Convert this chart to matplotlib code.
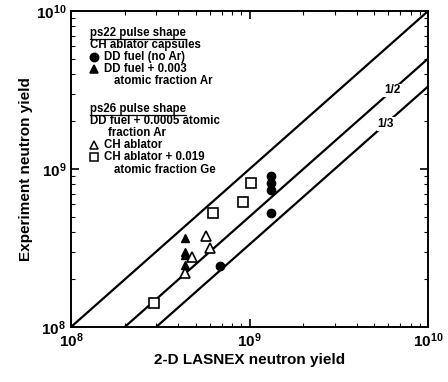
import matplotlib.pyplot as plt
from matplotlib.ticker import LogLocator, NullFormatter

plt.rcParams['font.family'] = ['Liberation Sans', 'DejaVu Sans']

# ps22, CH ablator, DD fuel (no Ar)
circ_x = [1.32e9, 1.32e9, 1.32e9, 1.32e9, 6.8e8]
circ_y = [9.1e8, 8.1e8, 7.4e8, 5.3e8, 2.44e8]
# ps22, DD fuel + 0.003 Ar
tri_x = [4.37e8, 4.37e8, 4.37e8, 4.37e8]
tri_y = [3.67e8, 2.99e8, 2.87e8, 2.48e8]
# ps26, CH ablator
otri_x = [5.72e8, 6.0e8, 4.78e8, 4.37e8]
otri_y = [3.78e8, 3.17e8, 2.78e8, 2.2e8]
# ps26, CH ablator + Ge
sq_x = [1.02e9, 9.2e8, 6.26e8, 2.9e8]
sq_y = [8.2e8, 6.2e8, 5.3e8, 1.42e8]

ratios = [1, 1/2, 1/3]
ratio_labels = ['', '1/2', '1/3']
label_x = [None, 6.3e9, 5.8e9]

fig = plt.figure(figsize=(4.48, 3.82), dpi=100)
ax = fig.add_axes([0.1585, 0.144, 0.797, 0.827])

xs = [1e8, 1e10]
for r, lab, lx in zip(ratios, ratio_labels, label_x):
    ax.plot(xs, [x * r for x in xs], color='black', lw=1.6)
    if lab:
        ax.text(lx, lx * r, lab, fontsize=8.5, fontweight='bold', ha='center',
                va='center', bbox=dict(fc='white', ec='none', pad=0.5))

ax.plot(circ_x, circ_y, 'o', color='black', ms=6, ls='none')
ax.plot(tri_x, tri_y, '^', color='black', ms=6, ls='none')
ax.plot(otri_x, otri_y, '^', mfc='white', mec='black', mew=1.2, ms=7, ls='none')
ax.plot(sq_x, sq_y, 's', mfc='white', mec='black', mew=1.2, ms=7, ls='none')

ax.set_xscale('log')
ax.set_yscale('log')
ax.set_xlim(1e8, 1e10)
ax.set_ylim(1e8, 1e10)

for a in (ax.xaxis, ax.yaxis):
    a.set_minor_locator(LogLocator(base=10, subs=range(2, 10)))
    a.set_minor_formatter(NullFormatter())
ax.tick_params(which='both', direction='in', top=True, right=True)
ax.tick_params(which='major', length=6, width=1.2, labelsize=11)
ax.tick_params(which='minor', length=3, width=0.8)
for lbl in ax.get_xticklabels() + ax.get_yticklabels():
    lbl.set_fontweight('bold')
for s in ax.spines.values():
    s.set_linewidth(1.4)

ax.set_xlabel('2-D LASNEX neutron yield', fontsize=11, fontweight='bold', labelpad=2)
ax.set_ylabel('Experiment neutron yield', fontsize=11, fontweight='bold', labelpad=2)

# legend block as text
def px(x, y):
    # figure pixel -> axes fraction
    return ((x - 71) / 357.0, (327 - y) / 316.0)

fs = 8.3
items = [
    (90, 33, 'ps22 pulse shape', True),
    (90, 45, 'CH ablator capsules', False),
    (104, 57, 'DD fuel (no Ar)', False),
    (104, 69, 'DD fuel + 0.003', False),
    (114, 81, 'atomic fraction Ar', False),
    (90, 109, 'ps26 pulse shape', True),
    (90, 121, 'DD fuel + 0.0005 atomic', False),
    (108, 133, 'fraction Ar', False),
    (104, 145, 'CH ablator', False),
    (104, 157, 'CH ablator + 0.019', False),
    (114, 170, 'atomic fraction Ge', False),
]
for x, y, s, ul in items:
    ax.text(*px(x, y), s, transform=ax.transAxes, fontsize=fs,
            fontweight='bold', va='center', ha='left')
    if ul:
        x0, y0 = px(x, y + 6)
        x1, _ = px(x + 96, y + 6)
        ax.plot([x0, x1], [y0, y0], transform=ax.transAxes, color='black', lw=0.9)

marks = [
    (94, 57, 'o', 'black'),
    (94, 69, '^', 'black'),
    (94, 145, '^', 'white'),
    (94, 157, 's', 'white'),
]
for x, y, m, fc in marks:
    ax.plot(*px(x, y), m, transform=ax.transAxes, mfc=fc, mec='black',
            mew=1.1, ms=6, ls='none')

fig.savefig('out.png', dpi=100)
